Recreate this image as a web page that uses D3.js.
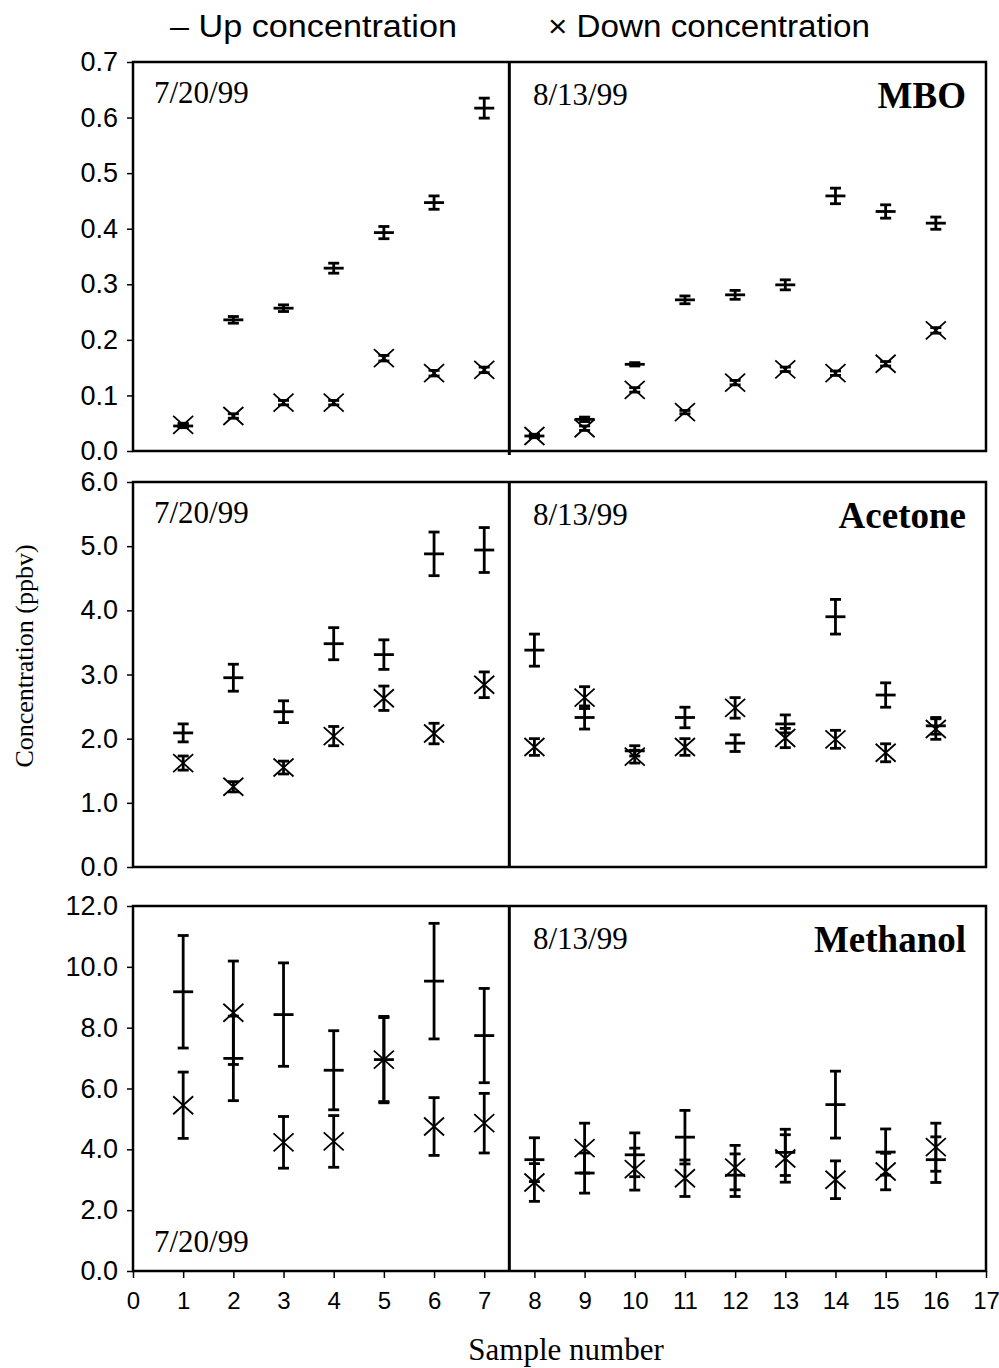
<!DOCTYPE html>
<html>
<head>
<meta charset="utf-8">
<script src="https://cdn.jsdelivr.net/npm/d3@7"></script>
<style>
  body { margin: 0; background: #fff; }
  svg { display: block; }
</style>
</head>
<body>
<svg id="chart"></svg>
<script>
const width = 999
const height = 1368

// sample numbers 1..16 (1-7 on 7/20/99, 8-16 on 8/13/99)
const samples = [1, 2, 3, 4, 5, 6, 7, 8, 9, 10, 11, 12, 13, 14, 15, 16]
const xTicks = d3.range(0, 18)

// MBO
const mboUp = [0.045, 0.236, 0.257, 0.329, 0.393, 0.447, 0.617, 0.027, 0.057, 0.156, 0.272, 0.281, 0.299, 0.459, 0.431, 0.41]
const mboUpErr = [0.003, 0.006, 0.006, 0.009, 0.011, 0.012, 0.018, 0.003, 0.004, 0.003, 0.007, 0.008, 0.009, 0.014, 0.012, 0.011]
const mboDown = [0.047, 0.063, 0.087, 0.087, 0.167, 0.14, 0.146, 0.027, 0.041, 0.11, 0.07, 0.123, 0.147, 0.14, 0.157, 0.217]
const mboDownErr = [0.003, 0.004, 0.004, 0.004, 0.005, 0.005, 0.005, 0.003, 0.004, 0.004, 0.003, 0.004, 0.004, 0.004, 0.004, 0.005]

// Acetone
const acetoneUp = [2.09, 2.95, 2.42, 3.48, 3.31, 4.88, 4.94, 3.38, 2.33, 1.81, 2.33, 1.93, 2.23, 3.9, 2.68, 2.2]
const acetoneUpErr = [0.14, 0.21, 0.17, 0.25, 0.23, 0.34, 0.35, 0.25, 0.18, 0.08, 0.16, 0.13, 0.14, 0.27, 0.19, 0.13]
const acetoneDown = [1.62, 1.25, 1.55, 2.04, 2.63, 2.08, 2.84, 1.87, 2.64, 1.72, 1.87, 2.48, 2.01, 1.99, 1.78, 2.15]
const acetoneDownErr = [0.11, 0.08, 0.1, 0.15, 0.19, 0.16, 0.2, 0.13, 0.17, 0.1, 0.13, 0.16, 0.15, 0.14, 0.14, 0.16]

// Methanol
const methanolUp = [9.18, 6.99, 8.43, 6.6, 6.95, 9.53, 7.74, 3.66, 3.22, 3.82, 4.4, 3.15, 3.9, 5.47, 3.91, 3.66]
const methanolUpErr = [1.85, 1.39, 1.7, 1.3, 1.42, 1.9, 1.55, 0.72, 0.66, 0.72, 0.88, 0.7, 0.76, 1.1, 0.76, 0.75]
const methanolDown = [5.45, 8.49, 4.23, 4.26, 6.95, 4.75, 4.86, 2.91, 4.04, 3.35, 3.05, 3.4, 3.7, 3.0, 3.27, 4.07]
const methanolDownErr = [1.09, 1.7, 0.85, 0.85, 1.38, 0.95, 0.98, 0.62, 0.82, 0.69, 0.6, 0.73, 0.78, 0.62, 0.6, 0.79]

const svg = d3.select('#chart').attr('width', width).attr('height', height)

const x = d3.scaleLinear().domain([0, 17]).range([133, 986])

const panels = [
  { name: 'MBO', top: 62, bottom: 451, max: 0.7, step: 0.1, fmt: '.1f',
    up: mboUp, upErr: mboUpErr, down: mboDown, downErr: mboDownErr, leftDateBottom: false },
  { name: 'Acetone', top: 482, bottom: 867, max: 6, step: 1, fmt: '.1f',
    up: acetoneUp, upErr: acetoneUpErr, down: acetoneDown, downErr: acetoneDownErr, leftDateBottom: false },
  { name: 'Methanol', top: 906, bottom: 1271, max: 12, step: 2, fmt: '.1f',
    up: methanolUp, upErr: methanolUpErr, down: methanolDown, downErr: methanolDownErr, leftDateBottom: true },
]

const sans = 'Liberation Sans, Arial, sans-serif'
const serif = 'Liberation Serif, Times New Roman, serif'

panels.forEach((p, pi) => {
  const y = d3.scaleLinear().domain([0, p.max]).range([p.bottom, p.top])
  const g = svg.append('g').attr('class', 'panel')

  // y axis
  const yAxis = d3
    .axisLeft(y)
    .tickValues(d3.range(0, p.max + p.step / 2, p.step))
    .tickFormat(d3.format(p.fmt))
    .tickSize(6)
    .tickPadding(9)
  const ya = g.append('g').attr('transform', `translate(${x(0)},0)`).call(yAxis)
  ya.select('.domain').remove()
  ya.selectAll('line').attr('stroke', '#000').attr('stroke-width', 1.5)
  ya.selectAll('text')
    .attr('font-family', sans)
    .attr('font-size', 27)
    .attr('fill', '#000')

  // x axis only on last panel
  if (pi === panels.length - 1) {
    const xa = g
      .append('g')
      .attr('transform', `translate(0,${p.bottom})`)
      .call(d3.axisBottom(x).tickValues(xTicks).tickSize(7).tickPadding(14))
    xa.select('.domain').remove()
    xa.selectAll('line').attr('stroke', '#000').attr('stroke-width', 1.5)
    xa.selectAll('text')
      .attr('font-family', sans)
      .attr('font-size', 24)
      .attr('fill', '#000')
  }

  // frame
  g.append('rect')
    .attr('x', x(0))
    .attr('y', p.top)
    .attr('width', x(17) - x(0))
    .attr('height', p.bottom - p.top)
    .attr('fill', 'none')
    .attr('stroke', '#000')
    .attr('stroke-width', 2.5)

  // divider between days
  g.append('line')
    .attr('x1', x(7.5))
    .attr('x2', x(7.5))
    .attr('y1', p.top)
    .attr('y2', p.bottom + (pi === 0 ? 4 : 0))
    .attr('stroke', '#000')
    .attr('stroke-width', 3)

  // date labels
  g.append('text')
    .attr('x', 154)
    .attr('y', p.leftDateBottom ? p.bottom - 19 : p.top + 41)
    .attr('font-family', serif)
    .attr('font-size', 31)
    .text('7/20/99')
  g.append('text')
    .attr('x', 533)
    .attr('y', p.top + 43)
    .attr('font-family', serif)
    .attr('font-size', 31)
    .text('8/13/99')
  g.append('text')
    .attr('x', 966)
    .attr('y', p.top + 46)
    .attr('text-anchor', 'end')
    .attr('font-family', serif)
    .attr('font-weight', 'bold')
    .attr('font-size', 37)
    .text(p.name)

  const rows = samples.map((s, i) => ({
    s, up: p.up[i], upErr: p.upErr[i], down: p.down[i], downErr: p.downErr[i],
  }))

  // error bars helper
  function errorBars(sel, val, err) {
    sel.append('line')
      .attr('x1', (d) => x(d.s)).attr('x2', (d) => x(d.s))
      .attr('y1', (d) => y(d[val] - d[err])).attr('y2', (d) => y(d[val] + d[err]))
      .attr('stroke', '#000').attr('stroke-width', 2.8)
    sel.append('line')
      .attr('x1', (d) => x(d.s) - 5.5).attr('x2', (d) => x(d.s) + 5.5)
      .attr('y1', (d) => y(d[val] + d[err])).attr('y2', (d) => y(d[val] + d[err]))
      .attr('stroke', '#000').attr('stroke-width', 2.8)
    sel.append('line')
      .attr('x1', (d) => x(d.s) - 5.5).attr('x2', (d) => x(d.s) + 5.5)
      .attr('y1', (d) => y(d[val] - d[err])).attr('y2', (d) => y(d[val] - d[err]))
      .attr('stroke', '#000').attr('stroke-width', 2.8)
  }

  // down series: X markers
  const downG = g.append('g').selectAll('g').data(rows).join('g')
  errorBars(downG, 'down', 'downErr')
  downG.append('path')
    .attr('d', (d) => {
      const cx = x(d.s), cy = y(d.down), r = 10
      return `M${cx - r},${cy - r * 0.9}L${cx + r},${cy + r * 0.9}M${cx - r},${cy + r * 0.9}L${cx + r},${cy - r * 0.9}`
    })
    .attr('stroke', '#000').attr('stroke-width', 1.8).attr('fill', 'none')

  // up series: dash markers
  const upG = g.append('g').selectAll('g').data(rows).join('g')
  errorBars(upG, 'up', 'upErr')
  upG.append('line')
    .attr('x1', (d) => x(d.s) - 10).attr('x2', (d) => x(d.s) + 10)
    .attr('y1', (d) => y(d.up)).attr('y2', (d) => y(d.up))
    .attr('stroke', '#000').attr('stroke-width', 2.8)
})

// legend
svg.append('text')
  .attr('x', 170).attr('y', 37)
  .attr('font-family', sans).attr('font-size', 31)
  .attr('textLength', 287).attr('lengthAdjust', 'spacingAndGlyphs')
  .text('– Up concentration')
svg.append('text')
  .attr('x', 548).attr('y', 37)
  .attr('font-family', sans).attr('font-size', 31)
  .attr('textLength', 322).attr('lengthAdjust', 'spacingAndGlyphs')
  .text('× Down concentration')

// axis titles
svg.append('text')
  .attr('transform', 'translate(33,656) rotate(-90)')
  .attr('text-anchor', 'middle')
  .attr('font-family', serif).attr('font-size', 26)
  .text('Concentration (ppbv)')
svg.append('text')
  .attr('x', 566).attr('y', 1360)
  .attr('text-anchor', 'middle')
  .attr('font-family', serif).attr('font-size', 31)
  .text('Sample number')
</script>
</body>
</html>
